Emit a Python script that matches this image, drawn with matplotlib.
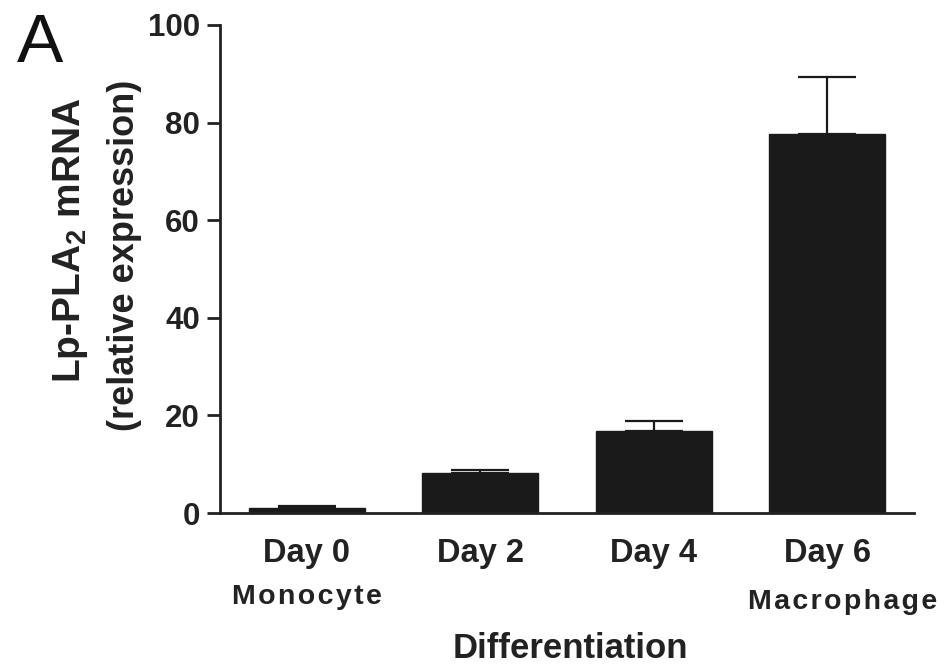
import matplotlib
matplotlib.use("Agg")
import matplotlib.pyplot as plt
import matplotlib.transforms as mtransforms

plt.rcParams['font.family'] = ['Liberation Sans', 'DejaVu Sans']
plt.rcParams['mathtext.default'] = 'regular'

# values
days = ["Day 0", "Day 2", "Day 4", "Day 6"]
stage_names = ["Monocyte", "Macrophage"]
stage_pos = [0.0, 3.09]
expression = [1.0, 8.1, 16.8, 77.7]
sem = [0.4, 0.7, 2.1, 11.6]
yticks = [0, 20, 40, 60, 80, 100]

fig = plt.figure(figsize=(9.44, 6.72), dpi=100)
ax = fig.add_axes([0.2331, 0.2366, 0.7352, 0.7262])

x = list(range(len(days)))
ax.bar(x, expression, width=0.67, color='#1a1a1a', edgecolor='#1a1a1a', zorder=2)
ax.errorbar(x, expression, yerr=[[0] * len(sem), sem], fmt='none',
            ecolor='#1a1a1a', elinewidth=1.6, capsize=21, capthick=1.6, zorder=1)

ax.set_xlim(-0.5, 3.5)
ax.set_ylim(0, 100)
ax.set_yticks(yticks)
ax.set_xticks(x)
ax.set_xticklabels(days, fontsize=23.5, fontweight='bold', color='#222222')
ax.tick_params(axis='x', length=0, pad=18)
ax.tick_params(axis='y', length=9.4, width=2, pad=5, labelsize=22.5, colors='#222222')
for lab in ax.get_yticklabels():
    lab.set_fontweight('bold')

for s in ['top', 'right']:
    ax.spines[s].set_visible(False)
for s in ['left', 'bottom']:
    ax.spines[s].set_linewidth(2)
    ax.spines[s].set_color('#222222')

# cell stage names under the day labels, letter-spaced
trans = mtransforms.blended_transform_factory(ax.transData, fig.transFigure)
ax.text(stage_pos[0], 1 - 604 / 672, "\u200a".join(stage_names[0]), transform=trans,
        ha='center', va='baseline', fontsize=20.5, fontweight='bold', color='#222222')
ax.text(stage_pos[1], 1 - 609 / 672, "\u200a".join(stage_names[1]), transform=trans,
        ha='center', va='baseline', fontsize=20.5, fontweight='bold', color='#222222')

fig.text(570 / 944, 1 - 658 / 672, "Differentiation", ha='center', va='baseline',
         fontsize=25, fontweight='bold', color='#222222')

fig.text(71 / 944, 1 - 240 / 672, "Lp-PLA$_2$ mRNA", rotation=90, ha='center', va='center',
         fontsize=28, fontweight='bold', color='#222222')
fig.text(125 / 944, 1 - 255 / 672, "(relative expression)", rotation=90, ha='center',
         va='center', fontsize=26, fontweight='bold', color='#222222')

fig.text(17 / 944, 1 - 62 / 672, "A", ha='left', va='baseline', fontsize=50, color='#111111')

fig.savefig("out.png", dpi=100)
